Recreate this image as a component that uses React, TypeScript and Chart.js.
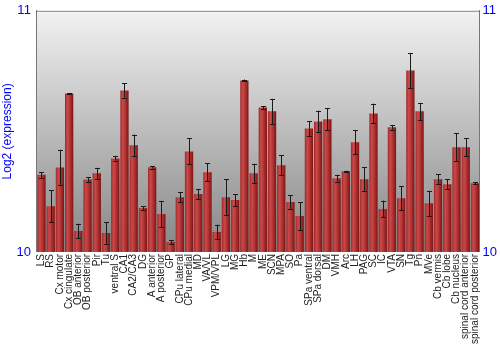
import React, { useEffect, useRef } from "react";
import { Chart, registerables } from "chart.js";

Chart.register(...registerables);

const categories = [
  "LS", "RS", "Cx motor", "Cx cingulate", "OB anterior", "OB posterior", "Pir", "Tu",
  "ventral S", "CA1", "CA2/CA3", "DG", "A anterior", "A posterior", "GP", "CPu lateral",
  "CPu medial", "MD", "VA/VL", "VPM/VPL", "LG", "MG", "Hb", "M", "ME", "SCN", "MPA", "SO",
  "Pa", "SPa ventral", "SPa dorsal", "DM", "VMH", "Arc", "LH", "PAG", "SC", "IC", "VTA",
  "SN", "Tg", "Pn", "MVe", "Cb vermis", "Cb lobe", "Cb nucleus", "spinal cord anterior",
  "spinal cord posterior",
];

const means = [
  10.32, 10.19, 10.35, 10.657, 10.087, 10.30, 10.326, 10.079,
  10.388, 10.67, 10.442, 10.182, 10.351, 10.157, 10.041, 10.227,
  10.417, 10.24, 10.331, 10.083, 10.227, 10.215, 10.711, 10.326, 10.599, 10.583, 10.36, 10.207,
  10.149, 10.512, 10.541, 10.55, 10.306, 10.335, 10.455, 10.302, 10.574, 10.178, 10.517,
  10.223, 10.752, 10.583, 10.202, 10.302, 10.281, 10.434, 10.434,
  10.285,
];

const errors = [
  0.012, 0.066, 0.074, 0.002, 0.03, 0.01, 0.023, 0.045,
  0.01, 0.03, 0.045, 0.008, 0.005, 0.055, 0.008, 0.02,
  0.054, 0.02, 0.037, 0.03, 0.074, 0.025, 0.004, 0.04, 0.006, 0.052, 0.041, 0.029,
  0.058, 0.031, 0.045, 0.045, 0.014, 0.002, 0.05, 0.05, 0.041, 0.035, 0.01,
  0.05, 0.072, 0.035, 0.052, 0.02, 0.02, 0.058, 0.037,
  0.005,
];

const yMin = 10;
const yMax = 11;
const axisTitle = "Log2 (expression)";

const backgroundPlugin = {
  id: "bgGradient",
  beforeDraw(chart: any) {
    const { ctx, chartArea } = chart;
    if (!chartArea) return;
    const g = ctx.createLinearGradient(0, chartArea.top, 0, chartArea.bottom);
    g.addColorStop(0, "#f2f2f2");
    g.addColorStop(1, "#868686");
    ctx.save();
    ctx.fillStyle = g;
    ctx.fillRect(chartArea.left, chartArea.top, chartArea.right - chartArea.left, chartArea.bottom - chartArea.top);
    ctx.strokeStyle = "#888888";
    ctx.lineWidth = 1;
    ctx.beginPath();
    ctx.moveTo(chartArea.left, chartArea.top + 0.5);
    ctx.lineTo(chartArea.right, chartArea.top + 0.5);
    ctx.stroke();
    ctx.restore();
  },
};

const errorBarPlugin = {
  id: "errorBars",
  afterDatasetsDraw(chart: any) {
    const { ctx } = chart;
    const meta = chart.getDatasetMeta(0);
    const yScale = chart.scales.y;
    ctx.save();
    ctx.strokeStyle = "#1a1a1a";
    ctx.lineWidth = 1;
    meta.data.forEach((bar: any, i: number) => {
      const x = Math.round(bar.x) + 0.5;
      const yHi = yScale.getPixelForValue(means[i] + errors[i]);
      const yLo = yScale.getPixelForValue(means[i] - errors[i]);
      ctx.beginPath();
      ctx.moveTo(x, yHi);
      ctx.lineTo(x, yLo);
      ctx.moveTo(x - 2.5, Math.round(yHi) + 0.5);
      ctx.lineTo(x + 2.5, Math.round(yHi) + 0.5);
      ctx.moveTo(x - 2.5, Math.round(yLo) + 0.5);
      ctx.lineTo(x + 2.5, Math.round(yLo) + 0.5);
      ctx.stroke();
    });
    ctx.restore();
  },
};

export default function App() {
  const canvasRef = useRef<HTMLCanvasElement | null>(null);

  useEffect(() => {
    document.body.style.margin = "0";
    const canvas = canvasRef.current;
    if (!canvas) return;
    const barColor = (context: any) => {
      const chart = context.chart;
      const xScale = chart.scales?.x;
      if (!xScale || context.dataIndex === undefined) return "#b03030";
      const cx = xScale.getPixelForValue(context.dataIndex);
      const w = (xScale.width / categories.length) * 0.9;
      if (!isFinite(cx) || !isFinite(w) || w <= 0) return "#b03030";
      const g = chart.ctx.createLinearGradient(cx - w / 2, 0, cx + w / 2, 0);
      g.addColorStop(0, "#a02828");
      g.addColorStop(0.3, "#c94a4a");
      g.addColorStop(0.6, "#b33333");
      g.addColorStop(1, "#7a1414");
      return g;
    };
    const chart = new Chart(canvas, {
      type: "bar",
      data: {
        labels: categories,
        datasets: [
          {
            data: means,
            backgroundColor: barColor,
            borderWidth: 0,
            barPercentage: 0.9,
            categoryPercentage: 1,
            base: yMin,
          },
        ],
      },
      options: {
        animation: false,
        responsive: false,
        maintainAspectRatio: false,
        layout: { padding: { top: 9, right: 0, bottom: 4, left: 0 } },
        plugins: {
          legend: { display: false },
          tooltip: { enabled: false },
        },
        scales: {
          x: {
            grid: { display: false, drawTicks: false },
            border: { display: false },
            ticks: {
              autoSkip: false,
              maxRotation: 90,
              minRotation: 90,
              color: "#222222",
              padding: 2,
              font: { family: "Liberation Sans, Arial, sans-serif", size: 10 },
            },
          },
          y: {
            min: yMin,
            max: yMax,
            position: "left",
            grid: { display: false, drawTicks: true, tickLength: 4, color: "#777777" },
            border: { display: true, color: "#777777" },
            ticks: {
              stepSize: 1,
              color: "#0000ff",
              padding: 2,
              font: { family: "Liberation Sans, Arial, sans-serif", size: 13 },
            },
            title: {
              display: true,
              text: axisTitle,
              color: "#0000ff",
              padding: 0,
              font: { family: "Liberation Sans, Arial, sans-serif", size: 12 },
            },
          },
          y2: {
            min: yMin,
            max: yMax,
            position: "right",
            grid: { display: false, drawTicks: false },
            border: { display: true, color: "#777777" },
            ticks: {
              stepSize: 1,
              color: "#0000ff",
              padding: 3,
              font: { family: "Liberation Sans, Arial, sans-serif", size: 13 },
            },
          },
        },
      },
      plugins: [backgroundPlugin, errorBarPlugin],
    });
    return () => chart.destroy();
  }, []);

  return (
    <div style={{ position: "absolute", left: 0, top: 0, width: 500, height: 350 }}>
      <canvas ref={canvasRef} width={500} height={350} />
    </div>
  );
}
